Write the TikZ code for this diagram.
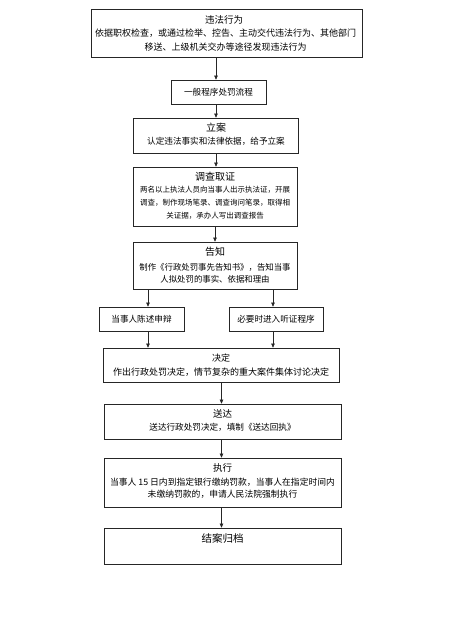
\documentclass[tikz,border=0pt]{standalone}
\usepackage{fontspec}
\newfontfamily\cjk{Noto Sans CJK SC}
\usetikzlibrary{arrows.meta}
\begin{document}
\begin{tikzpicture}[x=1pt,y=-1pt,
  box/.style={draw=black!85, line width=0.6pt, inner sep=0pt},
  arr/.style={draw=black!85, line width=0.6pt, -{Triangle[width=3.6pt,length=4.2pt]}},
  ttl/.style={font=\cjk\fontsize{9.5}{11}\selectfont, inner sep=0pt},
  bdy/.style={font=\cjk\fontsize{8.6}{14}\selectfont, align=center, inner sep=0pt}]
\useasboundingbox[fill=white] (0,0) rectangle (454,621);

% boxes
\node[box, minimum width=271pt, minimum height=48pt] (b1) at (227,33) {};
\node[box, minimum width=95pt,  minimum height=24pt] (b2) at (218.5,92) {};
\node[box, minimum width=165pt, minimum height=35pt] (b3) at (215.5,135.5) {};
\node[box, minimum width=164pt, minimum height=59pt] (b4) at (215,196.5) {};
\node[box, minimum width=164pt, minimum height=47pt] (b5) at (215,265.5) {};
\node[box, minimum width=85pt,  minimum height=24pt] (b6a) at (141.5,319) {};
\node[box, minimum width=94pt,  minimum height=24pt] (b6b) at (276,319) {};
\node[box, minimum width=236pt, minimum height=34pt] (b7) at (221,365) {};
\node[box, minimum width=237pt, minimum height=35pt] (b8) at (222.5,421.5) {};
\node[box, minimum width=237pt, minimum height=49pt] (b9) at (222.5,482.5) {};
\node[box, minimum width=237pt, minimum height=36pt] (b10) at (222.5,546) {};

% texts
\node[ttl] (t1) at (224,20) {违法行为};
\node[bdy, font=\cjk\fontsize{9}{14}\selectfont] (d1) at (225.5,40) {依据职权检查，或通过检举、控告、主动交代违法行为、其他部门\\移送、上级机关交办等途径发现违法行为};
\node[bdy] (t2) at (218.5,92) {一般程序处罚流程};
\node[ttl, font=\cjk\fontsize{10}{11}\selectfont] (t3) at (216,128) {立案};
\node[bdy] (d3) at (216,141) {认定违法事实和法律依据，给予立案};
\node[ttl, font=\cjk\fontsize{10}{11}\selectfont] (t4) at (215,177) {调查取证};
\node[bdy, font=\cjk\fontsize{7.5}{13}\selectfont] (d4) at (215,203) {两名以上执法人员向当事人出示执法证，开展\\调查，制作现场笔录、调查询问笔录，取得相\\关证据，承办人写出调查报告};
\node[ttl, font=\cjk\fontsize{10}{11}\selectfont] (t5) at (215,252) {告知};
\node[bdy, font=\cjk\fontsize{8.4}{12}\selectfont] (d5) at (215,273.5) {制作《行政处罚事先告知书》，告知当事\\人拟处罚的事实、依据和理由};
\node[bdy] (t6a) at (141.5,319) {当事人陈述申辩};
\node[bdy] (t6b) at (276,319) {必要时进入听证程序};
\node[ttl, font=\cjk\fontsize{9}{11}\selectfont] (t7) at (221,358) {决定};
\node[bdy, font=\cjk\fontsize{9}{13}\selectfont] (d7) at (221,372) {作出行政处罚决定，情节复杂的重大案件集体讨论决定};
\node[ttl, font=\cjk\fontsize{9.5}{11}\selectfont] (t8) at (222.5,414) {送达};
\node[bdy] (d8) at (222.5,427) {送达行政处罚决定，填制《送达回执》};
\node[ttl, font=\cjk\fontsize{9.5}{11}\selectfont] (t9) at (222.5,468) {执行};
\node[bdy, font=\cjk\fontsize{8.8}{12.5}\selectfont] (d9) at (222.5,488) {当事人 15 日内到指定银行缴纳罚款，当事人在指定时间内\\未缴纳罚款的，申请人民法院强制执行};
\node[ttl, font=\cjk\fontsize{10.5}{11}\selectfont] (t10) at (222.5,538) {结案归档};

% arrow columns
\coordinate (xa) at (216,0);
\coordinate (xb) at (215,0);
\coordinate (xl) at (148,0);
\coordinate (xr) at (273,0);
\coordinate (xc) at (221.5,0);

\draw[arr] (b1.south -| xa) -- (b2.north -| xa);
\draw[arr] (b2.south -| xa) -- (b3.north -| xa);
\draw[arr] (b3.south -| xa) -- (b4.north -| xa);
\draw[arr] (b4.south -| xb) -- (b5.north -| xb);
\draw[arr] (b5.south -| xl) -- (b6a.north -| xl);
\draw[arr] (b5.south -| xr) -- (b6b.north -| xr);
\draw[arr] (b6a.south -| xl) -- (b7.north -| xl);
\draw[arr] (b6b.south -| xr) -- (b7.north -| xr);
\draw[arr] (b7.south -| xc) -- (b8.north -| xc);
\draw[arr] (b8.south -| xc) -- (b9.north -| xc);
\draw[arr] (b9.south -| xc) -- (b10.north -| xc);
\end{tikzpicture}
\end{document}
